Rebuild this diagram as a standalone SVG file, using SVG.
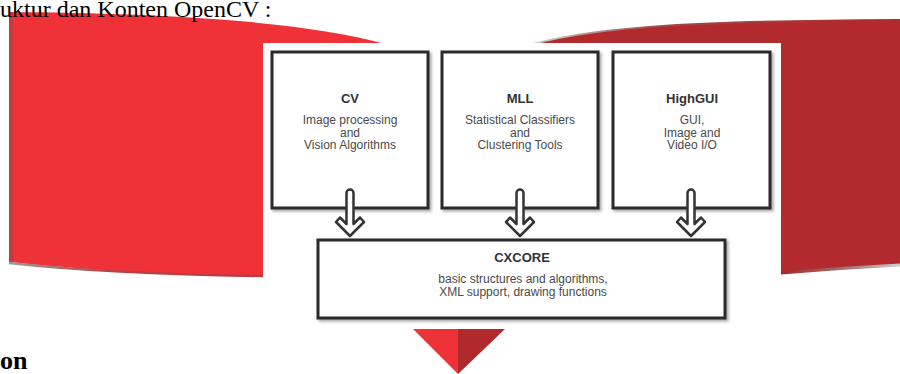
<svg xmlns="http://www.w3.org/2000/svg" width="900" height="374" viewBox="0 0 900 374">
<style>
.doc{font-family:"Liberation Serif","Times New Roman",serif;fill:#000}
.box{fill:#fff;stroke:#2b2b2b;stroke-width:3;filter:url(#sh)}
.t{font-family:"Liberation Sans",Arial,sans-serif;font-size:13px;font-weight:bold;fill:#333;text-anchor:middle}
.d{font-family:"Liberation Sans",Arial,sans-serif;font-size:12px;fill:#4a4a4a;text-anchor:middle}
.arr{fill:#fff;stroke:#333;stroke-width:2.5;stroke-linejoin:round}
</style>
<defs>
<filter id="sh" x="-10%" y="-10%" width="130%" height="130%">
<feDropShadow dx="2" dy="2" stdDeviation="1.5" flood-color="#000" flood-opacity="0.35"/>
</filter>
<linearGradient id="lb" x1="0" y1="0" x2="1" y2="0">
<stop offset="0" stop-color="#9a9a9a"/><stop offset="0.4" stop-color="#b84246"/><stop offset="1" stop-color="#c0393d"/>
</linearGradient>
<linearGradient id="rb" x1="0" y1="0" x2="1" y2="0">
<stop offset="0" stop-color="#a8272b"/><stop offset="0.5" stop-color="#a06a6c"/><stop offset="1" stop-color="#cfcfcf"/>
</linearGradient>
<linearGradient id="rt" x1="0" y1="0" x2="1" y2="0">
<stop offset="0" stop-color="#d0d0d0"/><stop offset="0.35" stop-color="#9c4a4d"/><stop offset="1" stop-color="#b02a2e"/>
</linearGradient>
<path id="arrow" d="M-3.5,193 A3.5,3.5 0 0 1 3.5,193 L3.5,224 L10,217.5 L14,222 L0,236 L-14,222 L-10,217.5 L-3.5,224 Z"/>
</defs>

<rect width="900" height="374" fill="#fff"/>

<g id="banner-left">
<path d="M9,12 C150,13 300,20 385,44 L385,277 L263,277 Q110,273 9,262 Z" fill="#ee3237"/>
<rect x="9" y="12" width="4" height="250" fill="#c53a3f"/>
<path d="M9,263 Q110,274 263,276" fill="none" stroke="url(#lb)" stroke-width="2.5"/>
</g>

<g id="banner-right">
<path d="M533,44 C600,26 700,21 900,20 L900,265 Q840,268 781,273 L781,44 Z" fill="#b22a2e"/>
<path d="M533,44 C600,26 700,21 900,20" fill="none" stroke="url(#rt)" stroke-width="2"/>
<path d="M781,273 Q840,268 900,265" fill="none" stroke="url(#rb)" stroke-width="3"/>
</g>

<rect id="figure" x="263" y="43" width="518" height="285" fill="#fff"/>

<g id="cv">
<rect class="box" x="272" y="52" width="156" height="156"/>
<text class="t" x="350" y="103">CV</text>
<text class="d" x="350" y="124">Image processing</text>
<text class="d" x="350" y="136.5">and</text>
<text class="d" x="350" y="149">Vision Algorithms</text>
</g>

<g id="mll">
<rect class="box" x="442" y="52" width="156" height="156"/>
<text class="t" x="520" y="103">MLL</text>
<text class="d" x="520" y="124">Statistical Classifiers</text>
<text class="d" x="520" y="136.5">and</text>
<text class="d" x="520" y="149">Clustering Tools</text>
</g>

<g id="highgui">
<rect class="box" x="613" y="52" width="157" height="156"/>
<text class="t" x="692" y="103">HighGUI</text>
<text class="d" x="692" y="124">GUI,</text>
<text class="d" x="692" y="136.5">Image and</text>
<text class="d" x="692" y="149">Video I/O</text>
</g>

<g id="cxcore">
<rect class="box" x="318" y="240" width="407" height="78"/>
<text class="t" x="522" y="261.5">CXCORE</text>
<text class="d" x="523" y="283">basic structures and algorithms,</text>
<text class="d" x="523" y="296">XML support, drawing functions</text>
</g>

<g id="connectors">
<use href="#arrow" x="350" class="arr"/>
<use href="#arrow" x="520" class="arr"/>
<use href="#arrow" x="691" class="arr"/>
</g>

<g id="down-triangle">
<polygon points="413,329 458,329 458,374" fill="#ee3237"/>
<polygon points="458,329 505,329 458,374" fill="#b0292d"/>
</g>

<text class="doc" x="0" y="17" font-size="24">uktur dan Konten OpenCV :</text>
<text class="doc" x="0" y="369" font-size="26" font-weight="bold">on</text>
</svg>
